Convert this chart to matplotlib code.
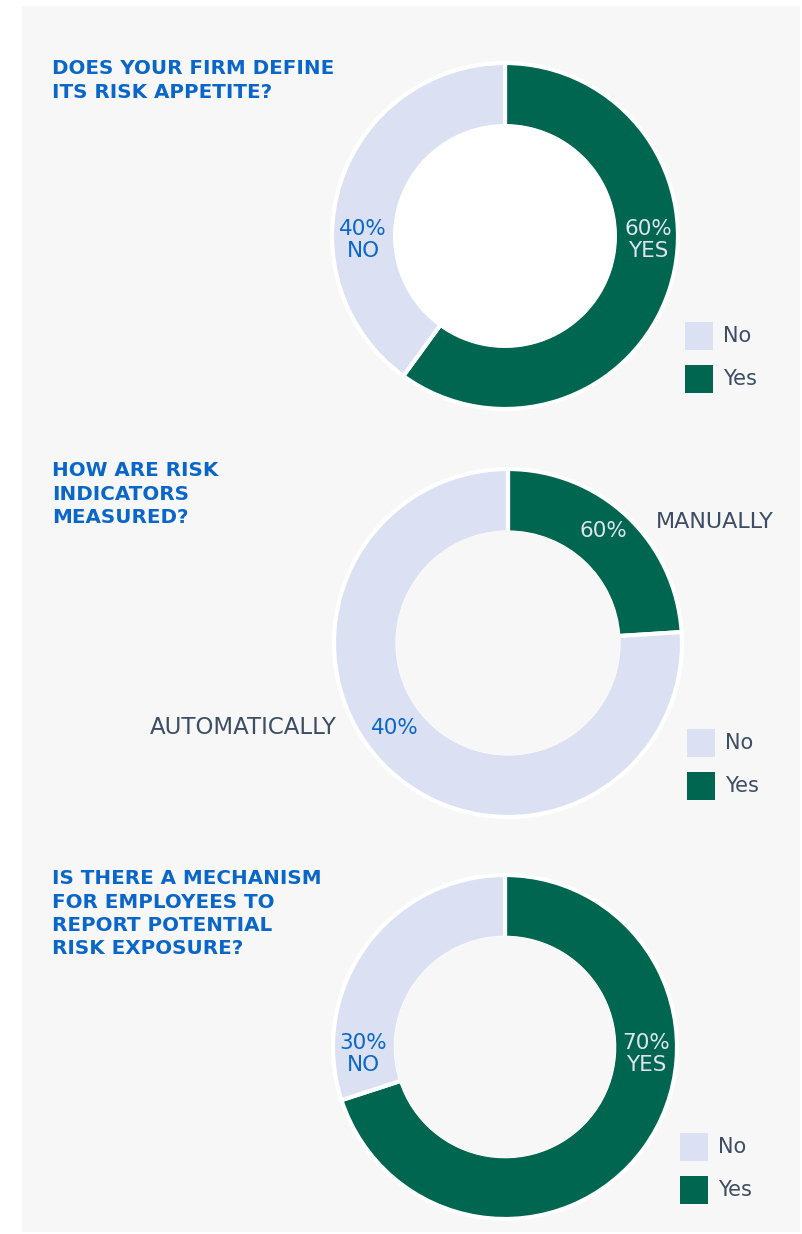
import matplotlib.pyplot as plt

# data
questions = ["DOES YOUR FIRM DEFINE\nITS RISK APPETITE?",
             "HOW ARE RISK\nINDICATORS\nMEASURED?",
             "IS THERE A MECHANISM\nFOR EMPLOYEES TO\nREPORT POTENTIAL\nRISK EXPOSURE?"]
categories = ["Yes", "No"]
yes_vals = [60, 24, 70]
no_vals = [40, 76, 30]

green = "#006650"
light = "#dbe1f2"
blue = "#0a66c8"
slate = "#3d4d63"
pale = "#dde3f2"
panel = "#f7f7f7"

W, H = 802, 1234
fig = plt.figure(figsize=(W / 100, H / 100), dpi=100)
fig.patch.set_facecolor("white")

def fx(x):
    return x / W

def fy(y):
    return 1 - y / H

# panel background
bg = fig.add_axes([fx(22), fy(1232), fx(800) - fx(22), fy(6) - fy(1232)])
bg.set_facecolor(panel)
bg.set_xticks([])
bg.set_yticks([])
for s in bg.spines.values():
    s.set_visible(False)

# donut placement (center x, center y, outer radius) in pixels
centers = [(505, 236, 173), (508, 643, 174), (505, 1047, 172)]
hole_colors = ["white", panel, panel]
title_y = [68, 470, 878]
legend_pos = [(685, 336), (687, 743), (680, 1147)]

for i in range(3):
    cx, cy, r = centers[i]
    ax = fig.add_axes([fx(cx - r - 4), fy(cy + r + 4), (2 * r + 8) / W, (2 * r + 8) / H])
    ax.pie([yes_vals[i], no_vals[i]], colors=[green, light], startangle=90,
           counterclock=False, radius=1,
           wedgeprops=dict(width=0.365, edgecolor="white", linewidth=3))
    # cover the white inner edge with the hole colour
    ax.add_patch(plt.Circle((0, 0), 0.635 + 1.6 / r, color=hole_colors[i], zorder=5, lw=0))
    ax.set_xlim(-(r + 4) / r, (r + 4) / r)
    ax.set_ylim(-(r + 4) / r, (r + 4) / r)
    ax.set_aspect("equal")
    ax.axis("off")

    fig.text(fx(52), fy(title_y[i] - 9), questions[i], color=blue, fontsize=14.3,
             fontweight="bold", ha="left", va="top", linespacing=1.3)

    lx, ly = legend_pos[i]
    for j, (lab, col) in enumerate(zip(["No", "Yes"], [light, green])):
        yy = ly + j * 43
        sq = fig.add_axes([fx(lx), fy(yy + 14), 28 / W, 28 / H])
        sq.set_facecolor(col)
        sq.set_xticks([])
        sq.set_yticks([])
        for s in sq.spines.values():
            s.set_visible(False)
        fig.text(fx(lx + 38), fy(yy), lab, color=slate, fontsize=15,
                 ha="left", va="center")

# wedge labels
fs = 15.5
fig.text(fx(363), fy(240), "40%\nNO", color=blue, fontsize=fs, ha="center",
         va="center", linespacing=1.1)
fig.text(fx(648), fy(240), "60%\nYES", color=pale, fontsize=fs, ha="center",
         va="center", linespacing=1.1)
fig.text(fx(603), fy(531), "60%", color=pale, fontsize=fs, ha="center", va="center")
fig.text(fx(715), fy(522), "MANUALLY", color=slate, fontsize=16, ha="center", va="center")
fig.text(fx(243), fy(728), "AUTOMATICALLY", color=slate, fontsize=16.5, ha="center", va="center")
fig.text(fx(395), fy(728), "40%", color=blue, fontsize=fs, ha="center", va="center")
fig.text(fx(363), fy(1054), "30%\nNO", color=blue, fontsize=fs, ha="center",
         va="center", linespacing=1.1)
fig.text(fx(646), fy(1054), "70%\nYES", color=pale, fontsize=fs, ha="center",
         va="center", linespacing=1.1)

fig.savefig("out.png", dpi=100)
